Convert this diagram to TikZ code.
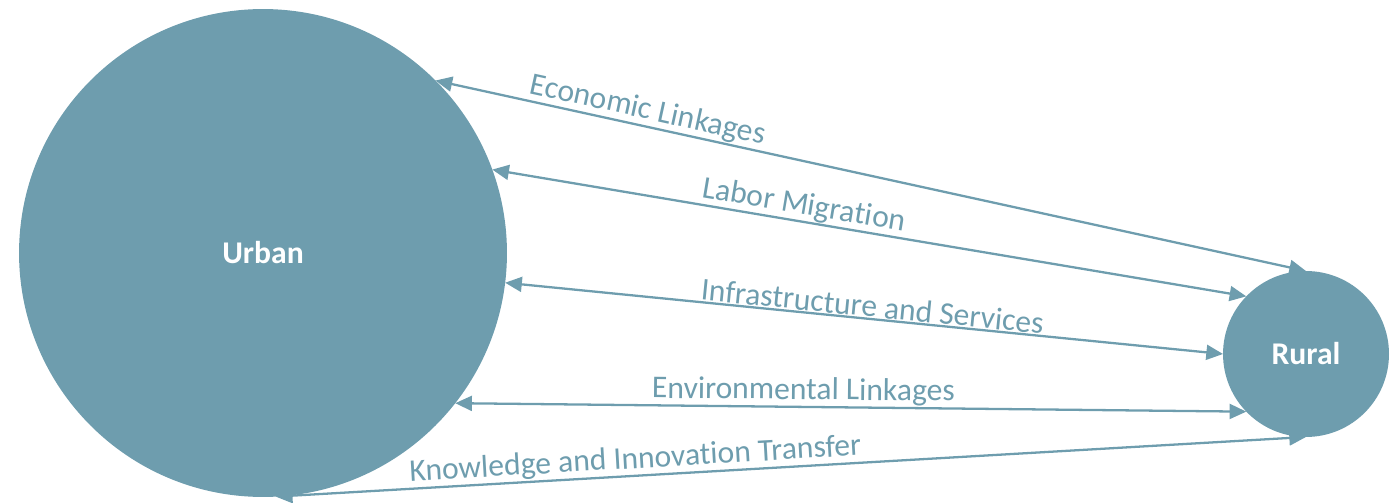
\documentclass[tikz,border=0pt]{standalone}
\usepackage{fontspec}
\setmainfont{Carlito}[Ligatures=NoCommon]
\usetikzlibrary{arrows.meta}
\definecolor{slate}{RGB}{110,157,174}

\begin{document}
\begin{tikzpicture}[x=0.02cm,y=-0.02cm,
hub/.style={circle,fill=slate,inner sep=0pt,outer sep=0pt,text=white,
font=\fontsize{18}{22}\selectfont\bfseries},
link/.style={{Triangle[length=9.5pt,width=8.5pt]}-{Triangle[length=9.5pt,width=8.5pt]},
draw=slate,line width=1.3pt},
tag/.style={sloped,above,text=slate,inner sep=0.5pt,
font=\fontsize{18}{22}\selectfont}]
\useasboundingbox (0,0) rectangle (1399,503);
\node[hub,minimum size=9.76cm] (urban) at (263,253) {Urban};
\node[hub,minimum size=3.32cm] (rural) at (1306,354) {Rural};
\draw[link] (urban.45) -- node[tag,pos=0.24]{Economic Linkages} (rural.90);
\draw[link] (urban.20) -- node[tag,pos=0.41]{Labor Migration} (rural.136);
\draw[link] (urban.-7.5) -- node[tag,pos=0.51]{Infrastructure and Services} (rural.180);
\draw[link] (urban.-38.6) -- node[tag,pos=0.44]{Environmental Linkages} (rural.224);
\draw[link] (urban.-87) -- node[tag,pos=0.35]{Knowledge and Innovation Transfer} (rural.270);
\end{tikzpicture}
\end{document}
